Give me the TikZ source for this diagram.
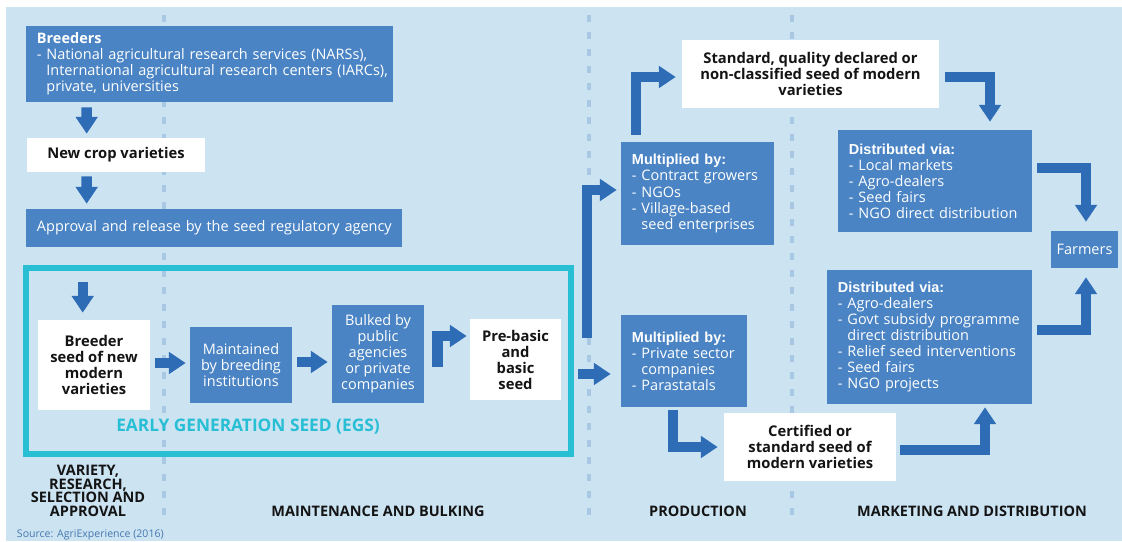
\documentclass[tikz,border=0pt]{standalone}
\usepackage{fontspec}
\setmainfont{Open Sans}
\newfontfamily\headfont{Liberation Sans}
\usetikzlibrary{arrows.meta, calc, positioning}
\definecolor{PaleBlue}{RGB}{204,227,242}
\definecolor{BoxBlue}{RGB}{74,132,196}
\definecolor{ArrowBlue}{RGB}{46,108,182}
\definecolor{EgsCyan}{RGB}{40,190,212}
\definecolor{GuideBlue}{RGB}{168,200,228}
\definecolor{InkBlack}{RGB}{20,20,20}
\definecolor{SourceBlue}{RGB}{70,120,175}

\begin{document}
\begin{tikzpicture}[
        x=0.025cm, y=-0.025cm,
        every node/.style={font=\fontsize{10.3}{11.4}\selectfont},
        box/.style={rectangle, fill=BoxBlue, text=white, inner sep=0pt, align=center},
        listbox/.style={box, align=left, inner xsep=0.275cm},
        whitebox/.style={rectangle, fill=white, text=InkBlack, inner sep=0pt, align=center, font=\fontsize{10.5}{11.4}\selectfont\bfseries},
        egsframe/.style={rectangle, draw=EgsCyan, line width=0.15cm, inner sep=0pt},
        egstext/.style={text=EgsCyan, font=\fontsize{12.3}{13}\selectfont\bfseries},
        stage/.style={text=InkBlack, align=center, font=\fontsize{10.3}{9.7}\selectfont\bfseries},
        guide/.style={GuideBlue, line width=0.09cm, dash pattern=on 0.175cm off 0.25cm},
        blockarrow/.style={ArrowBlue, line width=0.26cm, line join=miter, -{Triangle[width=0.53cm, length=0.42cm]}}
    ]

    % Canvas
    \useasboundingbox (0,0) rectangle (1122,541);
    \fill[PaleBlue] (6,7) rectangle (1122,541);

    % Stage guides
    \foreach \gx in {164,589,792}
        \draw[guide] (\gx,15) -- (\gx,515);

    % Variety, research, selection and approval
    \node[listbox, minimum width=9.175cm, minimum height=1.9cm, text width=8.625cm] (breeders) at (209.5,64)
        {\textbf{Breeders}\\\mbox{- National agricultural research services (NARSs),}\\\mbox{\phantom{- }International agricultural research centers (IARCs),}\\\phantom{- }private, universities};
    \node[whitebox, minimum width=4.45cm, minimum height=0.85cm] (newcrop) at (116,155) {New crop varieties};
    \node[listbox, minimum width=9.4cm, minimum height=0.95cm, text width=8.85cm] (approval) at (214,228)
        {\mbox{Approval and release by the seed regulatory agency}};

    % Early generation seed
    \node[egsframe, minimum width=13.625cm, minimum height=4.65cm] (egs) at (298.5,361) {};
    \node[whitebox, minimum width=2.8cm, minimum height=2.25cm] (breederseed) at (94,365) {Breeder\\seed of new\\modern\\varieties};
    \node[box, minimum width=2.55cm, minimum height=1.9cm] (maintained) at (241,365) {Maintained\\by breeding\\institutions};
    \node[box, minimum width=2.3cm, minimum height=2.45cm] (bulked) at (378,354) {Bulked by\\public\\agencies\\or private\\companies};
    \node[whitebox, minimum width=2.275cm, minimum height=2.025cm] (prebasic) at (515.5,359.5) {Pre-basic\\and\\basic\\seed};
    \node[egstext] (egslabel) at (248,427) {EARLY GENERATION SEED (EGS)};

    % Production
    \node[listbox, minimum width=3.825cm, minimum height=2.575cm, text width=3.275cm] (multtop) at (697.5,193.5)
        {{\headfont\bfseries Multiplied by:}\\- Contract growers\\- NGOs\\- Village-based\\\phantom{- }seed enterprises};
    \node[listbox, minimum width=3.15cm, minimum height=2.3cm, text width=2.6cm] (multbot) at (684,361)
        {{\headfont\bfseries Multiplied by:}\\- Private sector\\\phantom{- }companies\\- Parastatals};
    \node[whitebox, minimum width=6.425cm, minimum height=1.7cm] (standard) at (810.5,74)
        {Standard, quality declared or\\non-classified seed of modern\\varieties};
    \node[whitebox, minimum width=4.3cm, minimum height=1.7cm] (certified) at (810,447)
        {Certified or\\standard seed of\\modern varieties};

    % Marketing and distribution
    \node[listbox, minimum width=4.85cm, minimum height=2.55cm, text width=4.3cm] (disttop) at (935,181)
        {{\headfont\bfseries Distributed via:}\\- Local markets\\- Agro-dealers\\- Seed fairs\\- NGO direct distribution};
    \node[listbox, minimum width=5.125cm, minimum height=3.35cm, text width=4.575cm] (distbot) at (929.5,337)
        {{\headfont\bfseries Distributed via:}\\- Agro-dealers\\- Govt subsidy programme\\\phantom{- }direct distribution\\- Relief seed interventions\\- Seed fairs\\- NGO projects};
    \node[box, minimum width=1.675cm, minimum height=0.925cm] (farmers) at (1084.5,249.5) {Farmers};

    % Arrows
    \draw[blockarrow] ($(breeders.south west)+(61,5)$) -- ($(newcrop.north west)+(60,-4)$);
    \draw[blockarrow] ($(newcrop.south west)+(60,4)$) -- ($(approval.north west)+(61,-5)$);
    \draw[blockarrow] ($(breederseed.north west)+(45,-38)$) -- ($(breederseed.north west)+(45,-7)$);
    \draw[blockarrow] ($(breederseed.east)+(5,-2)$) -- ($(maintained.west)+(-4,-2)$);
    \draw[blockarrow] ($(maintained.east)+(5,-3)$) -- ($(maintained.east -| bulked.west)+(-4,-3)$);
    \draw[blockarrow] ($(bulked.east)+(13,13)$) |- ($(prebasic.west)+(-3,-23.5)$);
    \draw[blockarrow] ($(egs.east)+(13,-23)$) |- ($(multtop.west)+(-4,-3.5)$);
    \draw[blockarrow] ($(egs.east)+(4,13)$) -- ($(multbot.west)+(-10,13)$);
    \draw[blockarrow] ($(multtop.north west)+(15,-7)$) |- ($(standard.west)+(-6,3)$);
    \draw[blockarrow] ($(standard.east)+(6,3)$) -| ($(disttop.north)+(55,-8)$);
    \draw[blockarrow] ($(disttop.east)+(5,-13)$) -| ($(farmers.north)+(1.5,-9)$);
    \draw[blockarrow] ($(distbot.east)+(5,-7)$) -| ($(farmers.south)+(1.5,9)$);
    \draw[blockarrow] ($(multbot.south)+(-11,3)$) |- ($(certified.west)+(-6,0)$);
    \draw[blockarrow] ($(certified.east)+(4,3)$) -| ($(distbot.south)+(55.5,3)$);

    % Stage labels
    \node[stage] (stageone) at (88,491) {VARIETY,\\RESEARCH,\\SELECTION AND\\APPROVAL};
    \node[stage] (stagetwo) at (378,511) {MAINTENANCE AND BULKING};
    \node[stage] (stagethree) at (698,511) {PRODUCTION};
    \node[stage] (stagefour) at (972,511) {MARKETING AND DISTRIBUTION};
    \node[anchor=west, text=SourceBlue, font=\fontsize{7.5}{9}\selectfont] (source) at (12,535) {Source: AgriExperience (2016)};

\end{tikzpicture}
\end{document}
